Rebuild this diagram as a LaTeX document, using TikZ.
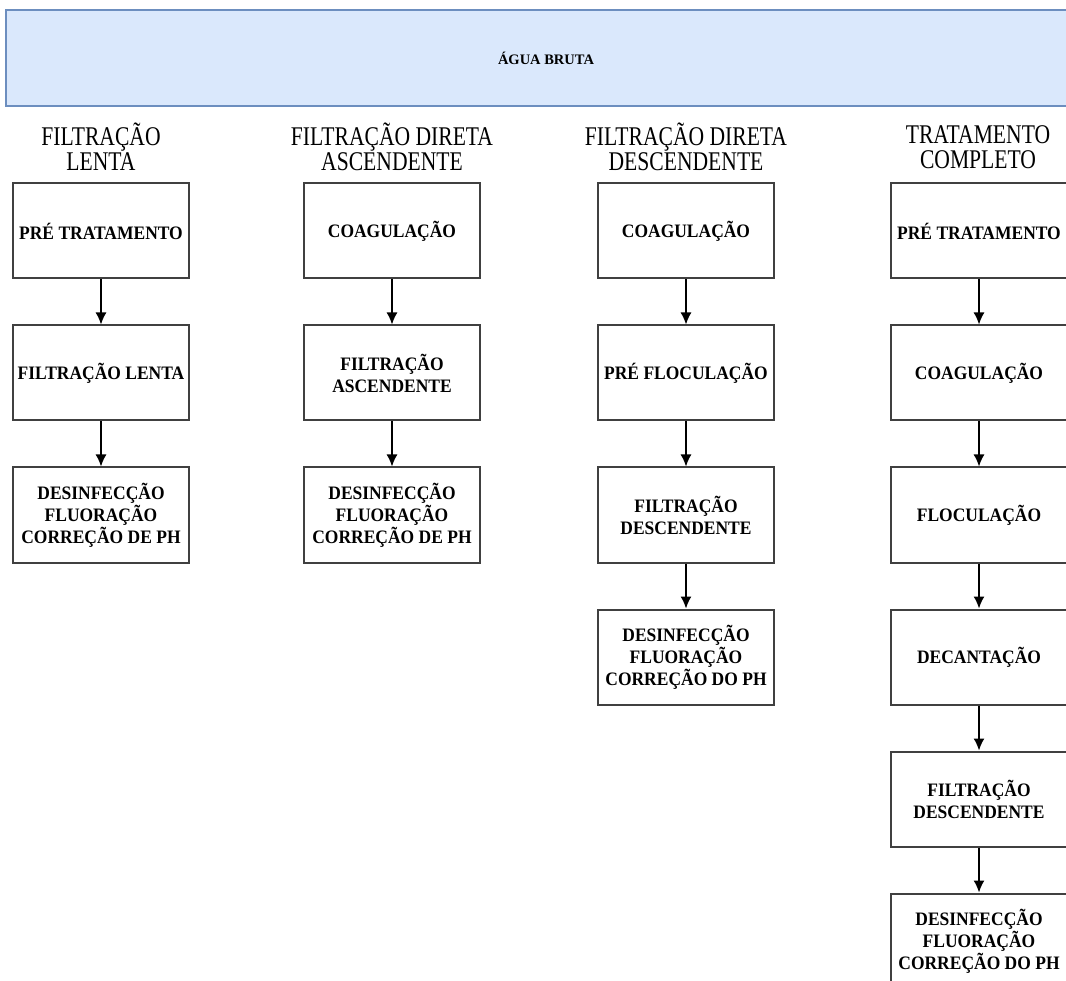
\documentclass[tikz,border=0pt]{standalone}
\usepackage{fontspec}
\setmainfont{Liberation Serif}
\newfontfamily\cabfont[FakeStretch=0.8]{Liberation Serif}
\newfontfamily\etapafont[FakeStretch=0.92]{Liberation Serif}
\usetikzlibrary{arrows.meta}
\definecolor{azulclaro}{RGB}{218,232,252}
\definecolor{azulborda}{RGB}{108,142,191}

\begin{document}
\begin{tikzpicture}[x=1pt, y=-1pt]
 \tikzstyle{etapa}=[rectangle, draw=black!75, line width=2pt, fill=white, minimum width=176pt, minimum height=95pt, align=center, inner sep=2pt, font=\etapafont\bfseries\fontsize{19}{22}\selectfont]
 \tikzstyle{titulo}=[align=center, inner sep=0pt, font=\cabfont\fontsize{27}{25}\selectfont]
 \tikzstyle{seta}=[-{Latex[length=12pt, width=11pt]}, line width=1.5pt]
 \useasboundingbox[fill=white] (0,0) rectangle (1066,981);
 %
 \node[rectangle, draw=azulborda, fill=azulclaro, line width=2pt, minimum width=1080pt, minimum height=96pt, font=\bfseries\fontsize{14.5}{16}\selectfont] (AB) at (546,58) {ÁGUA BRUTA};
 %
 \node[titulo] (HL) at (101,147) {FILTRAÇÃO\\LENTA};
 \node[titulo] (HA) at (392,147) {FILTRAÇÃO DIRETA\\ASCENDENTE};
 \node[titulo] (HD) at (686,147) {FILTRAÇÃO DIRETA\\DESCENDENTE};
 \node[titulo] (HC) at (978,147) {TRATAMENTO\\COMPLETO};
 %
 \node[etapa] (L1) at (101,231) {PRÉ TRATAMENTO};
 \node[etapa] (L2) at (101,373) {FILTRAÇÃO LENTA};
 \node[etapa] (L3) at (101,515) {DESINFECÇÃO\\FLUORAÇÃO\\CORREÇÃO DE PH};
 %
 \node[etapa] (A1) at (392,231) {COAGULAÇÃO};
 \node[etapa] (A2) at (392,373) {FILTRAÇÃO\\ASCENDENTE};
 \node[etapa] (A3) at (392,515) {DESINFECÇÃO\\FLUORAÇÃO\\CORREÇÃO DE PH};
 %
 \node[etapa] (D1) at (686,231) {COAGULAÇÃO};
 \node[etapa] (D2) at (686,373) {PRÉ FLOCULAÇÃO};
 \node[etapa] (D3) at (686,515) {FILTRAÇÃO\\DESCENDENTE};
 \node[etapa] (D4) at (686,657) {DESINFECÇÃO\\FLUORAÇÃO\\CORREÇÃO DO PH};
 %
 \node[etapa] (C1) at (979,231) {PRÉ TRATAMENTO};
 \node[etapa] (C2) at (979,373) {COAGULAÇÃO};
 \node[etapa] (C3) at (979,515) {FLOCULAÇÃO};
 \node[etapa] (C4) at (979,657) {DECANTAÇÃO};
 \node[etapa] (C5) at (979,799) {FILTRAÇÃO\\DESCENDENTE};
 \node[etapa] (C6) at (979,941) {DESINFECÇÃO\\FLUORAÇÃO\\CORREÇÃO DO PH};
 %%
 \draw[seta] (L1)--(L2);
 \draw[seta] (L2)--(L3);
 \draw[seta] (A1)--(A2);
 \draw[seta] (A2)--(A3);
 \draw[seta] (D1)--(D2);
 \draw[seta] (D2)--(D3);
 \draw[seta] (D3)--(D4);
 \draw[seta] (C1)--(C2);
 \draw[seta] (C2)--(C3);
 \draw[seta] (C3)--(C4);
 \draw[seta] (C4)--(C5);
 \draw[seta] (C5)--(C6);
\end{tikzpicture}
\end{document}
